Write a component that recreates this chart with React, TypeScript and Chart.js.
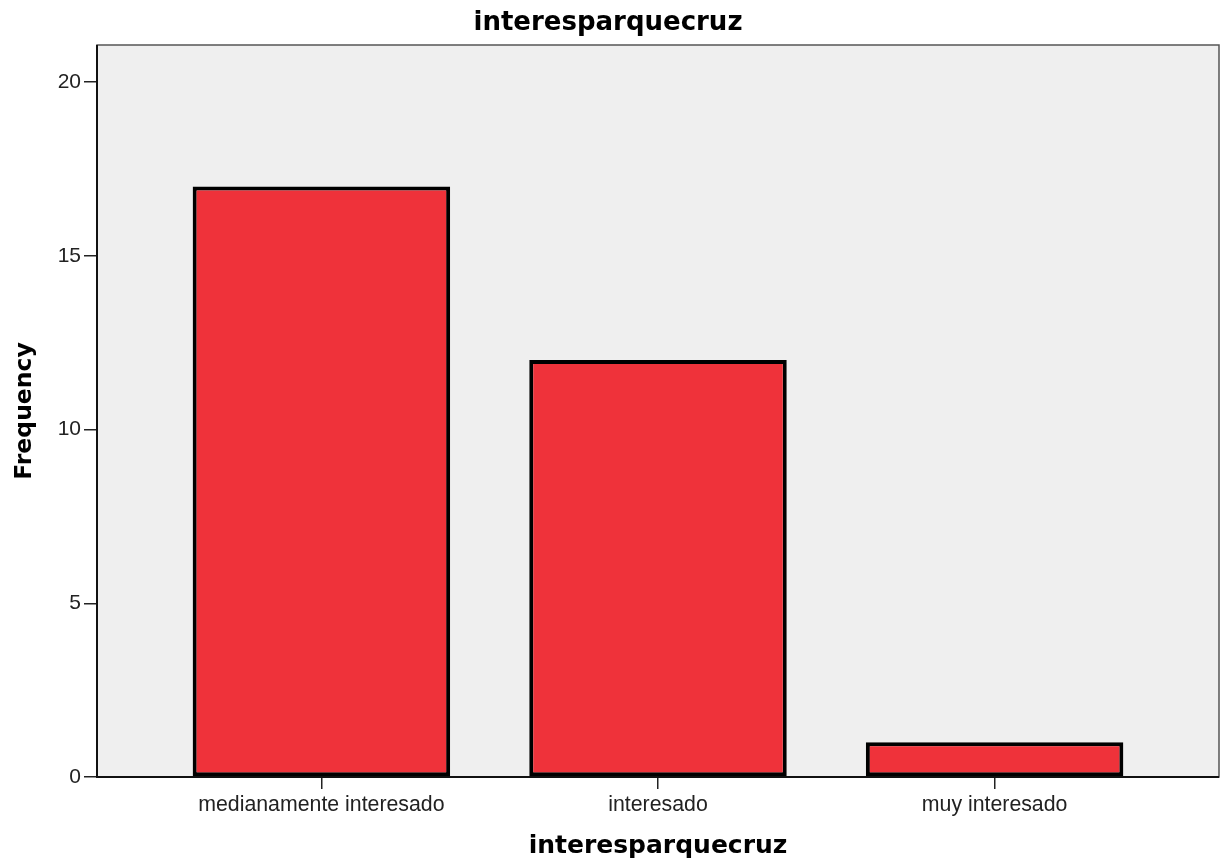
import React, { useEffect, useRef } from "react";
import { Chart, registerables } from "chart.js";

Chart.register(...registerables);

const categories = ["medianamente interesado", "interesado", "muy interesado"];
const frequencies = [17, 12, 1];
const yTicks = [0, 5, 10, 15, 20];
const chartTitle = "interesparquecruz";
const xTitle = "interesparquecruz";
const yTitle = "Frequency";

const FONT = "'DejaVu Sans', Verdana, sans-serif";
const TICK_FONT = "'Liberation Sans', Arial, sans-serif";

const bgPlugin = {
  id: "bgPlugin",
  beforeDraw(chart: any) {
    const { ctx, chartArea } = chart;
    ctx.save();
    ctx.fillStyle = "#ffffff";
    ctx.fillRect(0, 0, chart.width, chart.height);
    ctx.fillStyle = "#efefef";
    ctx.fillRect(chartArea.left, chartArea.top, chartArea.right - chartArea.left, chartArea.bottom - chartArea.top);
    ctx.restore();
  },
  afterDraw(chart: any) {
    const { ctx, chartArea } = chart;
    ctx.save();
    ctx.strokeStyle = "#555555";
    ctx.lineWidth = 1.5;
    ctx.strokeRect(chartArea.left, chartArea.top, chartArea.right - chartArea.left, chartArea.bottom - chartArea.top);
    ctx.strokeStyle = "#111111";
    ctx.lineWidth = 2;
    ctx.beginPath();
    ctx.moveTo(chartArea.left, chartArea.top);
    ctx.lineTo(chartArea.left, chartArea.bottom);
    ctx.lineTo(chartArea.right, chartArea.bottom);
    ctx.stroke();
    ctx.fillStyle = "#000000";
    ctx.textAlign = "center";
    ctx.textBaseline = "alphabetic";
    ctx.font = "bold 26px " + FONT;
    ctx.fillText(chartTitle, 608, 30);
    ctx.font = "bold 25px " + FONT;
    ctx.fillText(xTitle, (chartArea.left + chartArea.right) / 2, 853);
    ctx.font = "bold 23.5px " + FONT;
    ctx.translate(31, (chartArea.top + chartArea.bottom) / 2);
    ctx.rotate(-Math.PI / 2);
    ctx.fillText(yTitle, 0, 0);
    ctx.restore();
  },
};

export default function App() {
  const ref = useRef<HTMLCanvasElement>(null);
  useEffect(() => {
    document.body.style.margin = "0";
    const chart = new Chart(ref.current!, {
      type: "bar",
      data: {
        labels: categories,
        datasets: [
          {
            data: frequencies,
            backgroundColor: "#ef323a",
            borderColor: "#000000",
            borderWidth: 4,
            borderSkipped: false,
            barPercentage: 0.765,
            categoryPercentage: 1,
          },
        ],
      },
      options: {
        responsive: false,
        animation: false,
        layout: { padding: { top: 45, right: 2, left: 0, bottom: 0 } },
        plugins: { legend: { display: false }, tooltip: { enabled: false }, title: { display: false } },
        scales: {
          x: {
            offset: false,
            grid: { display: true, offset: false, drawOnChartArea: false, tickLength: 12, color: "#222222", lineWidth: 1.5 },
            border: { display: false },
            ticks: { color: "#222222", font: { family: TICK_FONT, size: 21.3 }, padding: 3, maxRotation: 0 },
            afterBuildTicks(scale: any) {
              scale._startValue = -2 / 3;
              scale._valueRange = categories.length - 1 + 4 / 3;
            },
            afterFit(scale: any) { scale.height = 84; },
          },
          y: {
            min: 0,
            max: 21.07,
            grid: { display: true, drawOnChartArea: false, tickLength: 13, color: "#222222", lineWidth: 1.5 },
            border: { display: false },
            afterBuildTicks(scale: any) { scale.ticks = yTicks.map((v) => ({ value: v })); },
            ticks: { color: "#222222", font: { family: TICK_FONT, size: 21 }, padding: 3 },
            afterFit(scale: any) { scale.width = 97; },
          },
        },
      },
      plugins: [bgPlugin],
    });
    return () => chart.destroy();
  }, []);
  return (
    <div style={{ position: "absolute", left: 0, top: 0, width: 1221, height: 861 }}>
      <canvas ref={ref} width={1221} height={861} style={{ width: 1221, height: 861 }} />
    </div>
  );
}
